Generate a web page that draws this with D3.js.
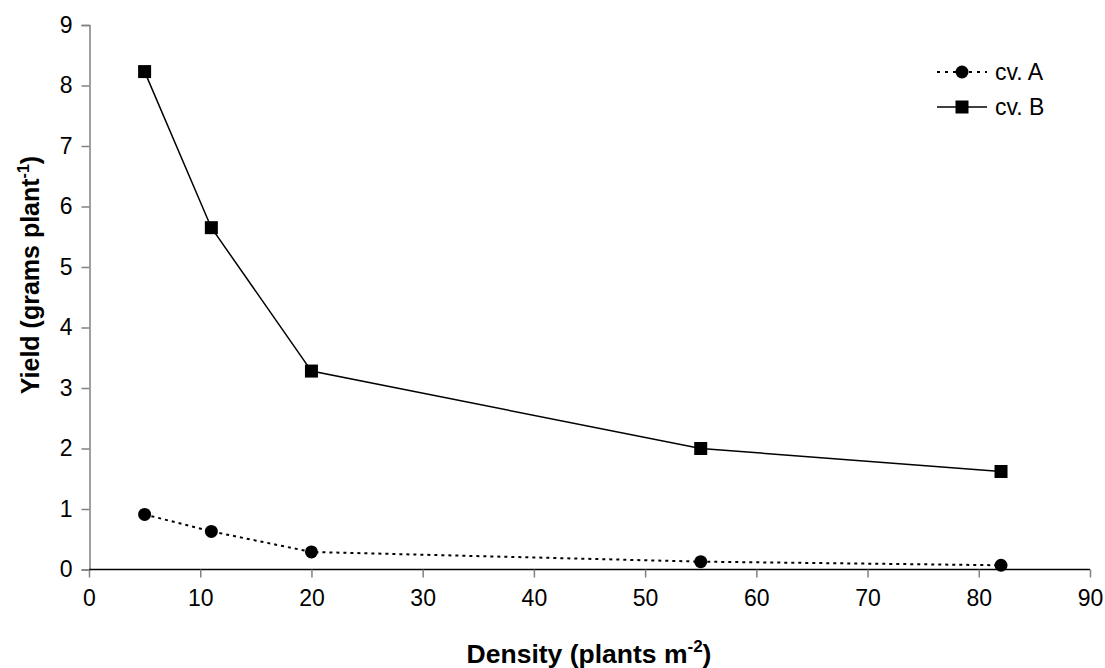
<!DOCTYPE html>
<html><head><meta charset="utf-8">
<script src="https://cdn.jsdelivr.net/npm/d3@7"></script>
<style>body{margin:0;background:#fff}svg{display:block}text{font-family:"Liberation Sans",Arial,sans-serif}</style>
</head><body><svg id="c" width="1105" height="668"></svg>
<script>
const density = [5, 11, 20, 55, 82];
const cvA = [0.91, 0.63, 0.29, 0.13, 0.07];
const cvB = [8.23, 5.65, 3.28, 2.0, 1.62];
const seriesNames = ["cv. A", "cv. B"];
const xTicks = [0,10,20,30,40,50,60,70,80,90];
const yTicks = [0,1,2,3,4,5,6,7,8,9];

const svg = d3.select("#c");
const x = d3.scaleLinear().domain([0,90]).range([89,1090]);
const y = d3.scaleLinear().domain([0,9]).range([569.5,25]);

// Y axis
const ya = svg.append("g").attr("transform","translate(89.5,0)")
  .call(d3.axisLeft(y).tickValues(yTicks).tickSize(8).tickPadding(9).tickFormat(d3.format("d")));
ya.select(".domain").attr("stroke","#808080").attr("stroke-width",1.5);
ya.selectAll(".tick line").attr("stroke","#808080").attr("stroke-width",1.5);
ya.selectAll(".tick text").attr("font-size",23).attr("fill","#000").attr("font-family","Liberation Sans, Arial, sans-serif");

// X axis
const xa = svg.append("g").attr("transform","translate(0,569.5)")
  .call(d3.axisBottom(x).tickValues(xTicks).tickSize(8).tickPadding(12).tickFormat(d3.format("d")));
xa.select(".domain").attr("stroke","#000").attr("stroke-width",1.5).attr("d","M89,0H1090");
xa.selectAll(".tick line").attr("stroke","#808080").attr("stroke-width",1.5);
xa.selectAll(".tick text").attr("font-size",23).attr("fill","#000").attr("font-family","Liberation Sans, Arial, sans-serif");

const line = d3.line().x((d,i)=>x(density[i])).y(d=>y(d));

svg.append("path").datum(cvA).attr("d",line).attr("fill","none")
  .attr("stroke","#000").attr("stroke-width",2).attr("stroke-dasharray","3,4");
svg.append("path").datum(cvB).attr("d",line).attr("fill","none")
  .attr("stroke","#000").attr("stroke-width",1.5);

svg.append("g").selectAll("circle").data(cvA).join("circle")
  .attr("cx",(d,i)=>x(density[i])).attr("cy",d=>y(d)).attr("r",6.5).attr("fill","#000");
svg.append("g").selectAll("rect").data(cvB).join("rect")
  .attr("x",(d,i)=>x(density[i])-6.5).attr("y",d=>y(d)-6.5).attr("width",13).attr("height",13).attr("fill","#000");

// Legend
const lg = svg.append("g");
const ly = [72, 107];
lg.append("line").attr("x1",937).attr("x2",987).attr("y1",ly[0]).attr("y2",ly[0])
  .attr("stroke","#000").attr("stroke-width",2).attr("stroke-dasharray","3,5");
lg.append("circle").attr("cx",962).attr("cy",ly[0]).attr("r",6.5).attr("fill","#000");
lg.append("line").attr("x1",937).attr("x2",987).attr("y1",ly[1]).attr("y2",ly[1])
  .attr("stroke","#000").attr("stroke-width",1.5);
lg.append("rect").attr("x",962-6.5).attr("y",ly[1]-6.5).attr("width",13).attr("height",13).attr("fill","#000");
seriesNames.forEach((n,i)=>{
  lg.append("text").attr("x",995).attr("y",ly[i]+8).attr("font-size",23).text(n);
});

// Axis titles
const xt = svg.append("text").attr("x",589).attr("y",663).attr("text-anchor","middle")
  .attr("font-size",26.5).attr("font-weight","bold");
xt.append("tspan").text("Density (plants m");
xt.append("tspan").attr("font-size",17).attr("dy",-11).text("-2");
xt.append("tspan").attr("dy",11).text(")");

const yt = svg.append("text").attr("transform","translate(39,275) rotate(-90)").attr("text-anchor","middle")
  .attr("font-size",25).attr("font-weight","bold");
yt.append("tspan").text("Yield (grams plant");
yt.append("tspan").attr("font-size",16).attr("dy",-10).text("-1");
yt.append("tspan").attr("dy",10).text(")");
</script></body></html>
